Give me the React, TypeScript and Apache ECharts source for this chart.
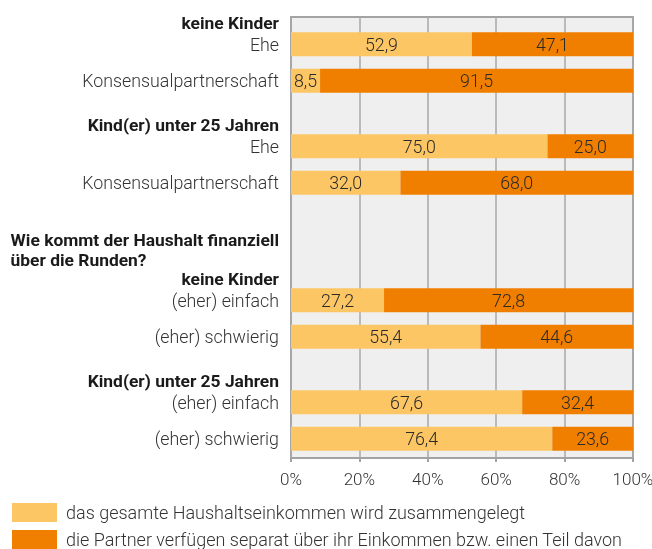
import React, { useEffect, useRef } from "react";
import * as echarts from "echarts";

const sectionTitle = ["Wie kommt der Haushalt finanziell", "über die Runden?"];
const groupTitles = ["keine Kinder", "Kind(er) unter 25 Jahren", "keine Kinder", "Kind(er) unter 25 Jahren"];
const groupCategories = [
  ["Ehe", "Konsensualpartnerschaft"],
  ["Ehe", "Konsensualpartnerschaft"],
  ["(eher) einfach", "(eher) schwierig"],
  ["(eher) einfach", "(eher) schwierig"],
];
const pooledValues = [
  [52.9, 8.5],
  [75.0, 32.0],
  [27.2, 55.4],
  [67.6, 76.4],
];
const separateValues = [
  [47.1, 91.5],
  [25.0, 68.0],
  [72.8, 44.6],
  [32.4, 23.6],
];
const seriesNames = [
  "das gesamte Haushaltseinkommen wird zusammengelegt",
  "die Partner verfügen separat über ihr Einkommen bzw. einen Teil davon",
];
const xTicks = [0, 20, 40, 60, 80, 100];

const LIGHT = "#fcc664";
const DARK = "#f07f00";
const FONT = "Roboto";
const FS = 17.8;
const FSB = 17.4;

export default function App() {
  const ref = useRef<HTMLDivElement>(null);
  useEffect(() => {
    if (!ref.current) return;
    const chart = echarts.init(ref.current, undefined, { renderer: "svg" });
    const plotLeft = 291;
    const plotWidth = 342;
    const groupTops = [26, 128, 282, 384];
    const groupHeight = 73;

    const grids: any[] = [
      {
        left: plotLeft,
        top: 17,
        width: plotWidth,
        height: 441,
        show: true,
        backgroundColor: "#efefef",
        borderColor: "#a3a3a3",
        borderWidth: 2,
        containLabel: false,
        outerBoundsMode: "none",
      },
    ];
    const xAxes: any[] = [
      {
        type: "value",
        gridIndex: 0,
        min: 0,
        max: 100,
        interval: 20,
        axisLine: { show: true, lineStyle: { color: "#a3a3a3", width: 2 } },
        axisTick: { show: true, length: 4, lineStyle: { color: "#a3a3a3", width: 2 } },
        splitLine: { show: true, lineStyle: { color: "#a9a9a9", width: 1.5 } },
        axisLabel: {
          formatter: (v: number) => (xTicks.includes(v) ? `${v}%` : ""),
          color: "#333",
          fontFamily: FONT,
          fontWeight: 300,
          fontSize: 17,
          margin: 12,
        },
      },
    ];
    const yAxes: any[] = [
      { type: "value", gridIndex: 0, show: false, min: 0, max: 1 },
    ];
    const series: any[] = [];

    const labelFmt = (p: any) => Number(p.value).toFixed(1).replace(".", ",");

    groupCategories.forEach((cats, g) => {
      const gi = g + 1;
      grids.push({
        left: plotLeft,
        top: groupTops[g],
        width: plotWidth,
        height: groupHeight,
        show: false,
        containLabel: false,
        outerBoundsMode: "none",
      });
      xAxes.push({ type: "value", gridIndex: gi, min: 0, max: 100, show: false });
      yAxes.push({
        type: "category",
        gridIndex: gi,
        inverse: true,
        data: cats,
        axisLine: { show: false },
        axisTick: { show: false },
        splitLine: { show: false },
        axisLabel: {
          interval: 0,
          margin: 12,
          align: "right",
          formatter: (value: string, index: number) => {
            if (index !== 0) return `{c|${value}}`;
            if (g === 2) {
              return `{q|${sectionTitle[0]}}\n{ql|${sectionTitle[1]}}\n{h|${groupTitles[g]}}\n{c|${value}}\n{sp| }`;
            }
            return `{h|${groupTitles[g]}}\n{c|${value}}\n{sp2| }`;
          },
          rich: {
            c: { fontFamily: FONT, fontSize: FS, fontWeight: 300, color: "#333", lineHeight: 21, align: "right" },
            h: { fontFamily: FONT, fontSize: FSB, fontWeight: "bold", color: "#1a1a1a", lineHeight: 21, align: "right" },
            q: { fontFamily: FONT, fontSize: FSB, fontWeight: "bold", color: "#1a1a1a", lineHeight: 22, align: "left" },
            ql: { fontFamily: FONT, fontSize: FSB, fontWeight: "bold", color: "#1a1a1a", lineHeight: 18, align: "left" },
            sp: { fontSize: 10, lineHeight: 61 },
            sp2: { fontSize: 10, lineHeight: 21 },
          },
        },
      });
      const valueLabel = {
        show: true,
        position: "inside",
        formatter: labelFmt,
        color: "#2a2a2a",
        fontFamily: FONT,
        fontWeight: 300,
        fontSize: FS,
      };
      series.push({
        type: "bar",
        name: seriesNames[0],
        xAxisIndex: gi,
        yAxisIndex: gi,
        stack: "s" + g,
        barWidth: 24,
        data: pooledValues[g],
        itemStyle: { color: LIGHT },
        label: valueLabel,
      });
      series.push({
        type: "bar",
        name: seriesNames[1],
        xAxisIndex: gi,
        yAxisIndex: gi,
        stack: "s" + g,
        barWidth: 24,
        data: separateValues[g],
        itemStyle: { color: DARK },
        label: valueLabel,
      });
    });

    chart.setOption({
      animation: false,
      grid: grids,
      xAxis: xAxes,
      yAxis: yAxes,
      series,
      legend: {
        data: seriesNames,
        orient: "vertical",
        left: 12,
        top: 503,
        height: 120,
        padding: 0,
        itemWidth: 45,
        itemHeight: 19,
        itemGap: 8,
        icon: "rect",
        textStyle: { fontFamily: FONT, fontWeight: 300, fontSize: 18, color: "#333", padding: [0, 0, 0, 4] },
        selectedMode: false,
      },
    });
    return () => chart.dispose();
  }, []);
  return (
    <div
      ref={ref}
      style={{ position: "fixed", left: 0, top: 0, width: 652, height: 549 }}
    />
  );
}
